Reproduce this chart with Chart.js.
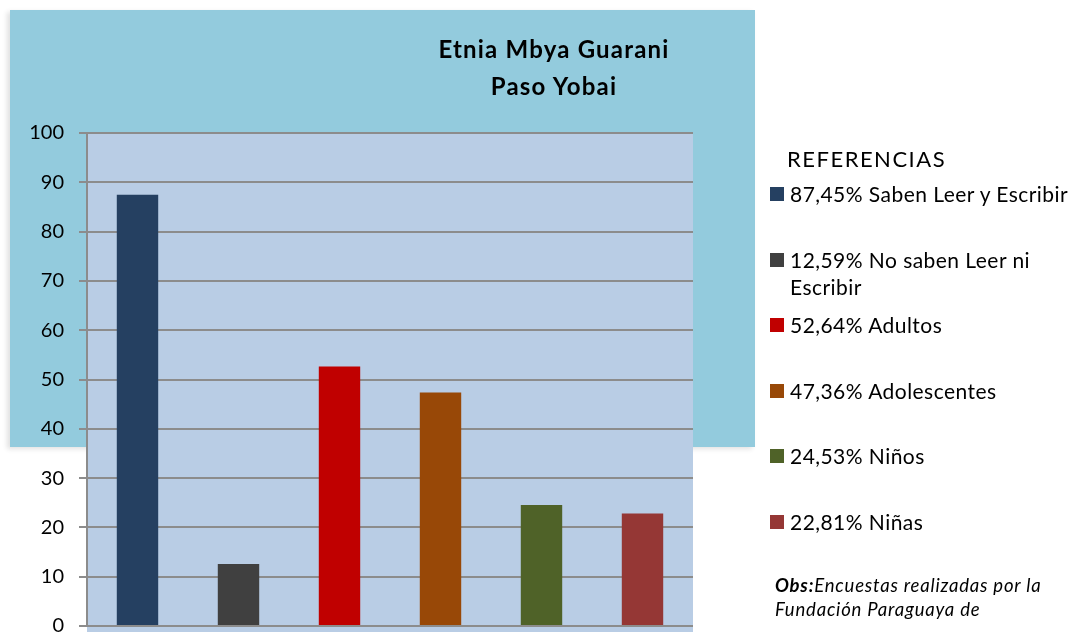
<!DOCTYPE html>
<html>
<head>
<meta charset="utf-8">
<script src="https://cdn.jsdelivr.net/npm/chart.js@4.4.0/dist/chart.umd.min.js"></script>
<style>
    html, body { margin: 0; padding: 0; background: #fff; overflow: hidden; }
    body { width: 1078px; height: 632px; position: relative; font-family: Lato, "Open Sans", sans-serif; }
    #backPanel {
        position: absolute; left: 10px; top: 10px; width: 745px; height: 437px;
        background: #93cbdd; box-shadow: -3px 2px 5px rgba(0,0,0,0.12);
    }
    #chartWrap { position: absolute; left: 0; top: 0; width: 1078px; height: 660px; }
    #title {
        position: absolute; left: 354px; top: 30px; width: 400px; text-align: center;
        font-weight: bold; font-size: 24px; letter-spacing: 1.2px; line-height: 37px; color: #000;
    }
    #refTitle { position: absolute; left: 787px; top: 145px; font-size: 22px; letter-spacing: 1.5px; color: #000; }
    #legend { position: absolute; left: 770px; top: 180px; width: 308px; }
    .item { display: flex; align-items: flex-start; height: 65.6px; }
    .box { width: 14px; height: 14px; margin-top: 7px; margin-right: 6px; flex: none; }
    .lbl { font-size: 21px; letter-spacing: 0.45px; line-height: 27px; color: #000; max-width: 288px; }
    #obs { position: absolute; left: 775px; top: 573px; font-size: 18.5px; letter-spacing: 0.8px; line-height: 24px; font-style: italic; color: #000; }
</style>
</head>
<body>
<div id="backPanel"></div>
<div id="chartWrap"><canvas id="chartContainer" width="1078" height="660"></canvas></div>
<div id="title">Etnia Mbya Guarani<br>Paso Yobai</div>
<div id="refTitle">REFERENCIAS</div>
<div id="legend"></div>
<div id="obs"><b>Obs:</b>Encuestas realizadas por la<br>Fundación Paraguaya de</div>

<script>
// Chart data
const categories = ['87,45% Saben Leer y Escribir', '12,59% No saben Leer ni Escribir', '52,64% Adultos',
    '47,36% Adolescentes', '24,53% Niños', '22,81% Niñas'];
const values = [87.45, 12.59, 52.64, 47.36, 24.53, 22.81];
const barColors = ['#254061', '#404040', '#c00000', '#984807', '#4f6228', '#953735'];
const yTicks = [0, 10, 20, 30, 40, 50, 60, 70, 80, 90, 100];

// paints the plot area background down to the canvas bottom
const plotBackground = {
    id: 'plotBackground',
    beforeDraw(chart) {
        const ctx = chart.ctx;
        const area = chart.chartArea;
        ctx.save();
        ctx.fillStyle = '#b9cde5';
        ctx.fillRect(area.left, area.top, area.right - area.left, chart.height - area.top);
        ctx.restore();
    }
};

document.addEventListener('DOMContentLoaded', function () {
    const ctx = document.getElementById('chartContainer').getContext('2d');
    new Chart(ctx, {
        type: 'bar',
        data: {
            labels: categories,
            datasets: [{
                data: values,
                backgroundColor: barColors,
                borderWidth: 0,
                barPercentage: 0.41,
                categoryPercentage: 1.0
            }]
        },
        options: {
            responsive: false,
            animation: false,
            layout: { padding: { top: 133, right: 385, bottom: 34, left: 0 } },
            scales: {
                x: { display: false },
                y: {
                    min: 0,
                    max: 100,
                    afterFit: function (scale) { scale.width = 87; },
                    afterBuildTicks: function (scale) { scale.ticks = yTicks.map(v => ({ value: v })); },
                    border: { display: true, color: '#8c8c8c', width: 2 },
                    grid: { color: '#8c8c8c', lineWidth: 2, tickLength: 8, drawTicks: true },
                    ticks: {
                        padding: 15,
                        color: '#000',
                        font: { family: 'Lato', size: 20 }
                    }
                }
            },
            plugins: {
                legend: { display: false },
                tooltip: { enabled: false }
            }
        },
        plugins: [plotBackground]
    });

    // legend on the right side
    const legendDiv = document.getElementById('legend');
    categories.forEach(function (cat, i) {
        const item = document.createElement('div');
        item.className = 'item';
        item.innerHTML = '<div class="box" style="background:' + barColors[i] + '"></div><div class="lbl">' + cat + '</div>';
        legendDiv.appendChild(item);
    });
});
</script>
</body>
</html>
